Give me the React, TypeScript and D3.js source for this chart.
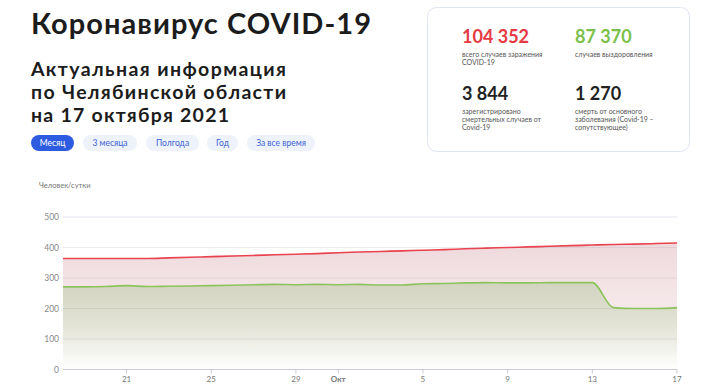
import * as d3 from "d3";

// daily values, Sep 18 – Oct 17 2021
const days = [
  "2021-09-18", "2021-09-19", "2021-09-20", "2021-09-21", "2021-09-22",
  "2021-09-23", "2021-09-24", "2021-09-25", "2021-09-26", "2021-09-27",
  "2021-09-28", "2021-09-29", "2021-09-30", "2021-10-01", "2021-10-02",
  "2021-10-03", "2021-10-04", "2021-10-05", "2021-10-06", "2021-10-07",
  "2021-10-08", "2021-10-09", "2021-10-10", "2021-10-11", "2021-10-12",
  "2021-10-13", "2021-10-14", "2021-10-15", "2021-10-16", "2021-10-17",
];
const casesPerDay = [
  364, 364, 364, 364, 364, 366, 368, 370, 372, 374,
  376, 378, 380, 383, 385, 387, 389, 391, 393, 396,
  398, 400, 402, 404, 406, 408, 410, 411, 413, 415,
];
const recoveredPerDay = [
  271, 271, 272, 275, 272, 273, 274, 275, 276, 278,
  279, 278, 279, 278, 279, 277, 277, 281, 282, 284,
  285, 284, 284, 285, 285, 285, 203, 200, 200, 203,
];
const yTicks = [0, 100, 200, 300, 400, 500];
const xTickDays = ["2021-09-21", "2021-09-25", "2021-09-29", "2021-10-01", "2021-10-05", "2021-10-09", "2021-10-13", "2021-10-17"];
const xTickLabels = ["21", "25", "29", "Окт", "5", "9", "13", "17"];

const subtitleLines = ["Актуальная информация", "по Челябинской области", "на 17 октября 2021"];
const periods = ["Месяц", "3 месяца", "Полгода", "Год", "За все время"];
const statValues = ["104 352", "87 370", "3 844", "1 270"];
const statLabels = [
  ["всего случаев заражения", "COVID-19"],
  ["случаев выздоровления"],
  ["зарегистрировано", "смертельных случаев от", "Covid-19"],
  ["смерть от основного", "заболевания (Covid-19 –", "сопутствующее)"],
];
const statColors = ["#e53a43", "#7cbf4a", "#222222", "#222222"];

const parse = d3.timeParse("%Y-%m-%d");
const FONT = "Lato, 'Open Sans', sans-serif";

export default function App() {
  const width = 725;
  const height = 390;
  const dates = days.map((d) => parse(d) as Date);

  const x = d3.scaleTime().domain([dates[0], dates[dates.length - 1]]).range([63, 677]);
  const y = d3.scaleLinear().domain([0, 500]).range([369.5, 217]);

  const casesRows = dates.map((d, i) => ({ d, v: casesPerDay[i] }));
  const recRows = dates.map((d, i) => ({ d, v: recoveredPerDay[i] }));

  const area = d3
    .area<{ d: Date; v: number }>()
    .x((r) => x(r.d))
    .y0(y(0))
    .y1((r) => y(r.v))
    .curve(d3.curveMonotoneX);
  const line = d3
    .line<{ d: Date; v: number }>()
    .x((r) => x(r.d))
    .y((r) => y(r.v))
    .curve(d3.curveMonotoneX);

  // header layout
  const subtitleLen = [255, 255, 198];
  const btnX = [31, 83, 146, 207, 247];
  const btnW = [43, 54, 53, 31, 68];

  const statPos = [
    [462, 43],
    [575, 43],
    [462, 100],
    [575, 100],
  ];

  return (
    <svg
      width={width}
      height={height}
      style={{ position: "absolute", left: 0, top: 0, background: "#fff" }}
      fontFamily={FONT}
    >
      <defs>
        <linearGradient id="redFill" gradientUnits="userSpaceOnUse" x1="0" x2="0" y1={y(420)} y2={y(0)}>
          <stop offset="0" stopColor="#eed9dc" />
          <stop offset="0.6" stopColor="#f7ebed" />
          <stop offset="1" stopColor="#fdfafa" />
        </linearGradient>
        <linearGradient id="greenFill" gradientUnits="userSpaceOnUse" x1="0" x2="0" y1={y(290)} y2={y(0)}>
          <stop offset="0" stopColor="#d2d3bf" />
          <stop offset="0.5" stopColor="#e3e3d6" />
          <stop offset="1" stopColor="#ffffff" />
        </linearGradient>
      </defs>

      {/* header */}
      <text x={31} y={34} fontSize={29} fontWeight={700} fill="#1c1c1c" textLength={340} lengthAdjust="spacing">
        Коронавирус COVID-19
      </text>
      {subtitleLines.map((t, i) => (
        <text
          key={t}
          x={31}
          y={76 + i * 23}
          fontSize={19.5}
          fontWeight={700}
          fill="#1c1c1c"
          textLength={subtitleLen[i]}
          lengthAdjust="spacing"
        >
          {t}
        </text>
      ))}

      {periods.map((p, i) => (
        <g key={p}>
          <rect
            x={btnX[i]}
            y={135}
            width={btnW[i]}
            height={16}
            rx={8}
            fill={i === 0 ? "#2e5ce0" : "#eef2fb"}
          />
          <text
            x={btnX[i] + btnW[i] / 2}
            y={146}
            textAnchor="middle"
            fontSize={8.5}
            fill={i === 0 ? "#ffffff" : "#3d63d6"}
          >
            {p}
          </text>
        </g>
      ))}

      {/* stats card */}
      <rect x={427.5} y={7.5} width={262} height={144} rx={9} fill="#fff" stroke="#e0e5f3" />
      {statValues.map((v, i) => (
        <g key={v}>
          <text x={statPos[i][0]} y={statPos[i][1]} fontSize={18} fontWeight={700} fill={statColors[i]}>
            {v}
          </text>
          {statLabels[i].map((l, j) => (
            <text key={l} x={statPos[i][0]} y={statPos[i][1] + 14 + j * 8} fontSize={7} fill="#555">
              {l}
            </text>
          ))}
        </g>
      ))}

      {/* chart */}
      <text x={39} y={188} fontSize={7.5} fill="#777">
        Человек/сутки
      </text>

      <path d={area(casesRows) ?? ""} fill="url(#redFill)" />
      <path d={area(recRows) ?? ""} fill="url(#greenFill)" />

      {yTicks.map((t) => (
        <g key={t}>
          {t > 0 && (
            <line
              x1={63}
              x2={677}
              y1={y(t)}
              y2={y(t)}
              stroke={t === 500 ? "#e2e4f1" : "rgba(120,120,140,0.14)"}
              strokeWidth={1}
            />
          )}
          <text x={59} y={y(t) + 3} textAnchor="end" fontSize={8.5} fill="#888">
            {t}
          </text>
        </g>
      ))}

      <path d={line(casesRows) ?? ""} fill="none" stroke="#e8434f" strokeWidth={1.6} />
      <path d={line(recRows) ?? ""} fill="none" stroke="#8cc45c" strokeWidth={1.6} />

      <line x1={63} x2={677} y1={y(0)} y2={y(0)} stroke="#c9cad3" />
      {xTickDays.map((d, i) => {
        const xx = x(parse(d) as Date);
        return (
          <g key={d}>
            <line x1={xx} x2={xx} y1={y(0)} y2={y(0) + 4} stroke="#c9cad3" />
            <text
              x={xx}
              y={382}
              textAnchor="middle"
              fontSize={8}
              fontWeight={xTickLabels[i] === "Окт" ? 700 : 400}
              fill="#777"
            >
              {xTickLabels[i]}
            </text>
          </g>
        );
      })}
    </svg>
  );
}
